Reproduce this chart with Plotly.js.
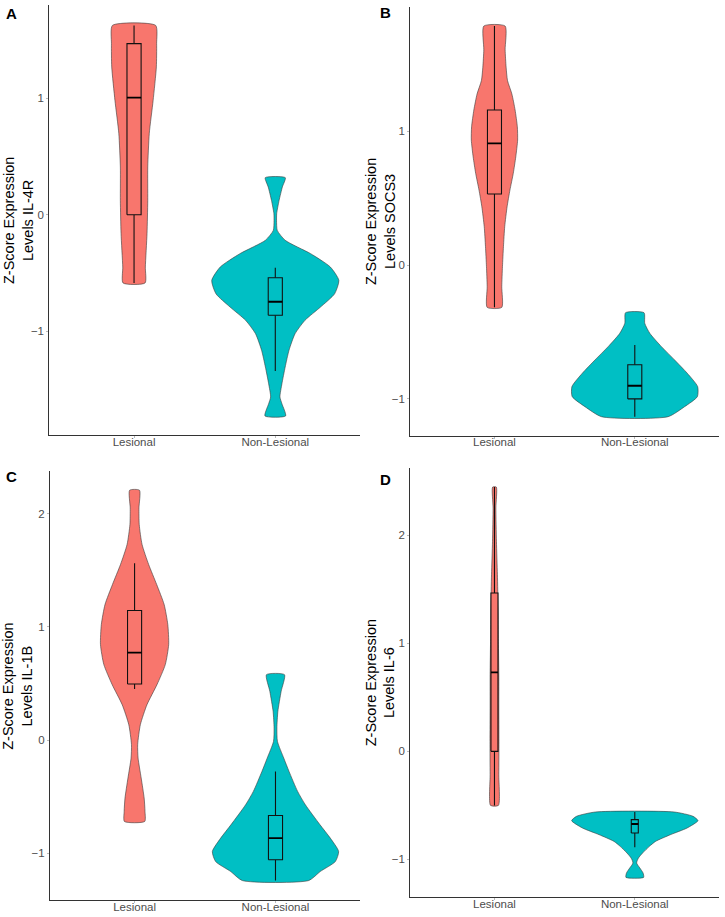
<!DOCTYPE html>
<html><head><meta charset="utf-8">
<script src="https://cdn.plot.ly/plotly-3.0.1.min.js"></script>
<style>html,body{margin:0;padding:0;background:#fff}#chart{width:725px;height:917px}</style>
</head><body><div id="chart"></div>
<script>
// ---------- DATA ----------
const categories = ['Lesional', 'Non-Lesional'];
const panelLabels = ['A', 'B', 'C', 'D'];
const genes = ['IL-4R', 'SOCS3', 'IL-1B', 'IL-6'];

// Violin outlines: value grid (bottom -> top) and half-width (category units)
const A_les_y = [-0.587, -0.45, -0.16, 0.12, 0.41, 0.70, 0.98, 1.27, 1.47, 1.627];
const A_les_w = [0.078, 0.080, 0.092, 0.097, 0.097, 0.108, 0.135, 0.158, 0.160, 0.153];
const A_non_y = [-1.73, -1.625, -1.567, -1.453, -1.31, -1.166, -1.023, -0.908, -0.794, -0.68, -0.565, -0.45, -0.335, -0.22, -0.135, -0.05, 0.01, 0.123, 0.238, 0.318];
const A_non_w = [0.073, 0.047, 0.033, 0.047, 0.070, 0.097, 0.140, 0.210, 0.320, 0.420, 0.450, 0.390, 0.250, 0.070, 0.014, 0.009, 0.010, 0.027, 0.050, 0.071];

const B_les_y = [-0.317, -0.162, -0.012, 0.137, 0.287, 0.436, 0.56, 0.686, 0.81, 0.935, 1.035, 1.16, 1.28, 1.38, 1.48, 1.61, 1.788];
const B_les_w = [0.052, 0.052, 0.057, 0.064, 0.073, 0.090, 0.110, 0.134, 0.152, 0.165, 0.163, 0.147, 0.124, 0.093, 0.083, 0.076, 0.076];
const B_non_y = [-1.135, -1.06, -0.985, -0.91, -0.81, -0.711, -0.611, -0.511, -0.436, -0.357];
const B_non_w = [0.237, 0.355, 0.446, 0.448, 0.374, 0.284, 0.190, 0.107, 0.071, 0.066];

const C_les_y = [-0.72, -0.631, -0.513, -0.336, -0.16, -0.04, 0.136, 0.313, 0.49, 0.667, 0.844, 1.02, 1.198, 1.375, 1.552, 1.73, 1.906, 2.053, 2.209];
const C_les_w = [0.072, 0.074, 0.068, 0.047, 0.025, 0.022, 0.041, 0.088, 0.159, 0.218, 0.242, 0.236, 0.210, 0.157, 0.100, 0.053, 0.033, 0.031, 0.035];
const C_non_y = [-1.242, -1.162, -1.074, -0.985, -0.867, -0.749, -0.572, -0.454, -0.277, -0.16, -0.012, 0.106, 0.254, 0.43, 0.578];
const C_non_w = [0.236, 0.318, 0.425, 0.448, 0.389, 0.316, 0.212, 0.157, 0.096, 0.059, 0.014, 0.010, 0.017, 0.040, 0.064];

const D_les_y = [-0.5, -0.216, 0.093, 0.4, 0.709, 1.018, 1.326, 1.634, 1.943, 2.251, 2.445];
const D_les_w = [0.028, 0.031, 0.032, 0.031, 0.031, 0.028, 0.026, 0.021, 0.014, 0.010, 0.013];
const D_non_y = [-1.166, -1.125, -1.079, -1.033, -0.987, -0.94, -0.879, -0.833, -0.771, -0.709, -0.641, -0.601, -0.561];
const D_non_w = [0.063, 0.059, 0.036, 0.013, 0.026, 0.056, 0.104, 0.148, 0.254, 0.373, 0.450, 0.415, 0.280];

// Box statistics: [lower whisker, Q1, median, Q3, upper whisker]
const A_les_box = [-0.587, 0.0, 1.006, 1.47, 1.627];
const A_non_box = [-1.344, -0.865, -0.748, -0.542, -0.456];
const B_les_box = [-0.317, 0.531, 0.91, 1.16, 1.788];
const B_non_box = [-1.135, -1.002, -0.903, -0.746, -0.599];
const C_les_box = [0.451, 0.496, 0.773, 1.145, 1.563];
const C_non_box = [-1.242, -1.059, -0.867, -0.667, -0.277];
const D_les_box = [-0.5, 0.0, 0.731, 1.465, 2.445];
const D_non_box = [-0.888, -0.755, -0.672, -0.632, -0.561];

// ---------- STYLE ----------
const colors = ['#F8766D', '#00BFC4'];
const panels = [
  {vy: [A_les_y, A_non_y], vw: [A_les_w, A_non_w], box: [A_les_box, A_non_box], boxW: 0.1,
   xd: [0.0680, 0.4966], yd: [0.5256, 0.9945], yr: [-1.894, 1.802], tv: [-1, 0, 1], tx: 0.0248},
  {vy: [B_les_y, B_non_y], vw: [B_les_w, B_non_w], box: [B_les_box, B_non_box], boxW: 0.1,
   xd: [0.5659, 0.9917], yd: [0.5249, 0.9927], yr: [-1.277, 1.933], tv: [-1, 0, 1], tx: 0.524},
  {vy: [C_les_y, C_non_y], vw: [C_les_w, C_non_w], box: [C_les_box, C_non_box], boxW: 0.1,
   xd: [0.0690, 0.4966], yd: [0.0182, 0.4860], yr: [-1.417, 2.376], tv: [-1, 0, 1, 2], tx: 0.0248},
  {vy: [D_les_y, D_non_y], vw: [D_les_w, D_non_w], box: [D_les_box, D_non_box], boxW: 0.05,
   xd: [0.5659, 0.9917], yd: [0.0221, 0.4896], yr: [-1.345, 2.621], tv: [-1, 0, 1, 2], tx: 0.524}
];
const labelPos = [[4, 13], [378, 12], [4, 477], [378, 479]];

const traces = [];
const layout = {
  width: 725, height: 917, margin: {l: 0, r: 0, t: 0, b: 0},
  paper_bgcolor: '#fff', plot_bgcolor: '#fff', showlegend: false,
  font: {family: '"Liberation Sans", Arial, sans-serif', color: '#4d4d4d'},
  annotations: []
};

panels.forEach((p, i) => {
  const n = i === 0 ? '' : String(i + 1);
  const xa = 'x' + n, ya = 'y' + n;
  categories.forEach((cat, c) => {
    const pos = c + 1;
    const ys = p.vy[c], ws = p.vw[c];
    const px = [], py = [];
    for (let k = 0; k < ys.length; k++) { px.push(pos + ws[k]); py.push(ys[k]); }
    for (let k = ys.length - 1; k >= 0; k--) { px.push(pos - ws[k]); py.push(ys[k]); }
    px.push(px[0]); py.push(py[0]);
    traces.push({
      type: 'scatter', mode: 'lines', x: px, y: py, xaxis: xa, yaxis: ya,
      fill: 'toself', fillcolor: colors[c],
      line: {color: '#3a3a3a', width: 0.6, shape: 'spline', smoothing: 0.6},
      hoverinfo: 'skip'
    });
    const b = p.box[c], hw = p.boxW / 2;
    // whiskers
    traces.push({
      type: 'scatter', mode: 'lines', xaxis: xa, yaxis: ya, hoverinfo: 'skip',
      x: [pos, pos, null, pos, pos], y: [b[0], b[1], null, b[3], b[4]],
      line: {color: '#111111', width: 1.1}
    });
    // box
    traces.push({
      type: 'scatter', mode: 'lines', xaxis: xa, yaxis: ya, hoverinfo: 'skip',
      x: [pos - hw, pos + hw, pos + hw, pos - hw, pos - hw], y: [b[1], b[1], b[3], b[3], b[1]],
      fill: 'toself', fillcolor: colors[c], line: {color: '#111111', width: 1.1}
    });
    // median
    traces.push({
      type: 'scatter', mode: 'lines', xaxis: xa, yaxis: ya, hoverinfo: 'skip',
      x: [pos - hw, pos + hw], y: [b[2], b[2]],
      line: {color: '#000000', width: 1.9}
    });
  });
  layout['xaxis' + n] = {
    domain: p.xd, anchor: ya, range: [0.4, 2.6], tickvals: [1, 2], ticktext: categories,
    showline: true, linecolor: '#333333', linewidth: 1, ticks: 'outside', ticklen: 2,
    tickcolor: '#bbbbbb', showgrid: false, zeroline: false, ticklabelstandoff: -6,
    tickfont: {size: 11.5, color: '#4d4d4d'}
  };
  layout['yaxis' + n] = {
    domain: p.yd, anchor: xa, range: p.yr, tickvals: p.tv,
    showline: true, linecolor: '#333333', linewidth: 1, ticks: 'outside', ticklen: 2,
    tickcolor: '#bbbbbb', showgrid: false, zeroline: false,
    tickfont: {size: 11.5, color: '#4d4d4d'}
  };
  layout.annotations.push({
    text: 'Z-Score Expression<br>Levels ' + genes[i], textangle: -90,
    xref: 'paper', x: p.tx, xanchor: 'center', yref: ya + ' domain', y: 0.5, yanchor: 'middle',
    showarrow: false, font: {size: 14.5, color: '#000000'}
  });
  layout.annotations.push({
    text: '<b>' + panelLabels[i] + '</b>', xref: 'paper', yref: 'paper',
    x: labelPos[i][0] / 725, y: 1 - labelPos[i][1] / 917, xanchor: 'left', yanchor: 'middle',
    showarrow: false, font: {size: 15, color: '#000000'}
  });
});

Plotly.newPlot('chart', traces, layout, {staticPlot: true, displayModeBar: false});
</script>
</body></html>
